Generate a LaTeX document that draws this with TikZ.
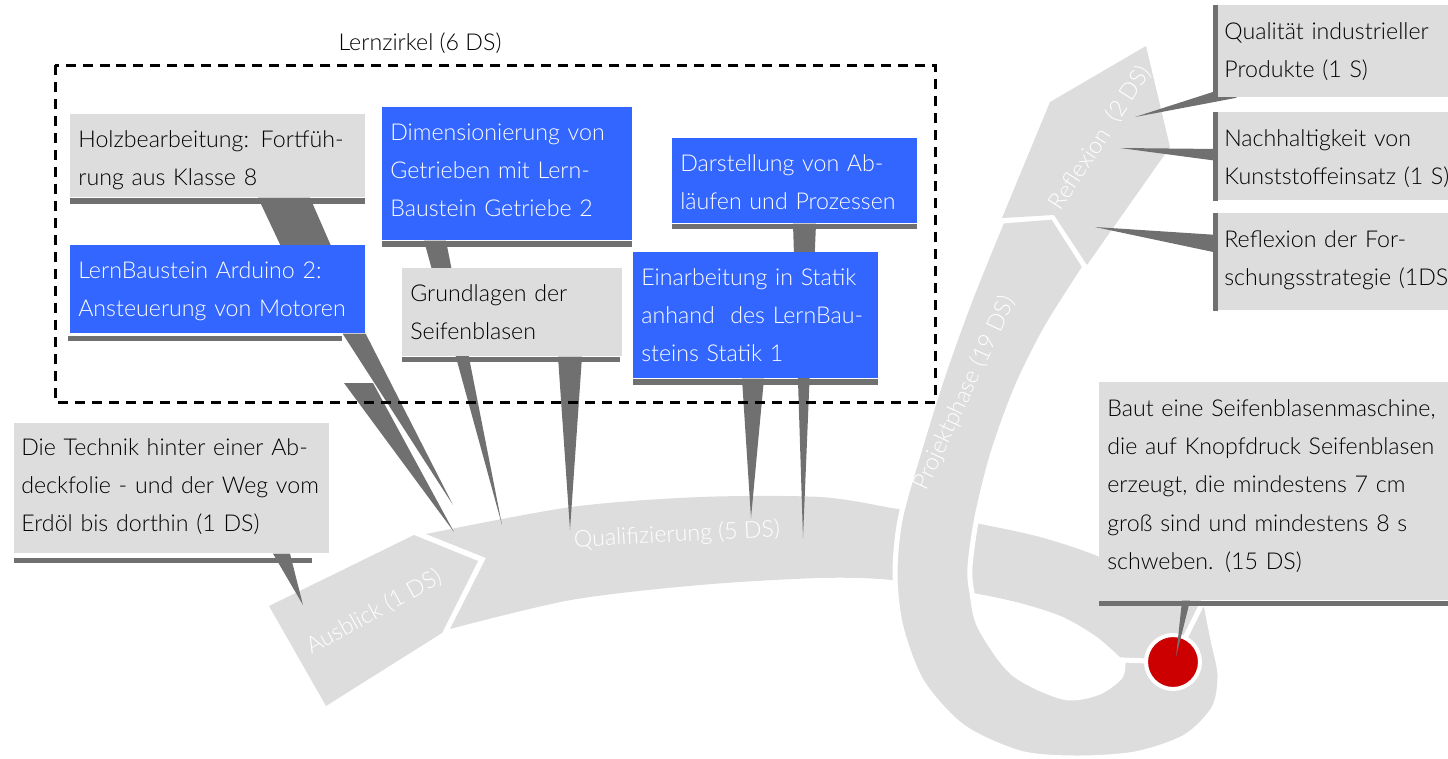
\documentclass[tikz,border=0pt]{standalone}
\usepackage{fontspec}
\setmainfont{Lato}[UprightFont=* Light]
\usetikzlibrary{calc}

\definecolor{trackgray}{HTML}{DDDDDD}
\definecolor{bargray}{HTML}{707070}
\definecolor{lzblue}{HTML}{3366FF}
\definecolor{goalred}{HTML}{CC0000}
\newcommand\cardfont{\fontsize{13.2pt}{21.8pt}\selectfont}

\tikzset{
  card/.style={anchor=north west, inner xsep=0.16cm, inner ysep=0pt, align=left, text height=0.66cm, font=\cardfont},
  graycard/.style={card, fill=trackgray, text=black},
  bluecard/.style={card, fill=lzblue, text=white},
  sidecard/.style={graycard, inner xsep=0.12cm, text width=5cm, text height=0.68cm},
  underbar/.style={fill=bargray},
  callout/.style={fill=bargray},
  track/.style={fill=trackgray},
  cuttrack/.style={fill=trackgray, draw=white, line width=0.1cm},
  steplabel/.style={text=white, font=\cardfont, inner sep=0pt},
  goal/.style={circle, fill=goalred, draw=white, line width=0.08cm, minimum size=1.08cm, inner sep=0pt}
}

\begin{document}
\begin{tikzpicture}[x=0.02cm, y=-0.02cm]
  \pgfdeclarelayer{band}    % the grey track
  \pgfdeclarelayer{pointer} % spikes from the cards
  \pgfsetlayers{band,pointer,main}
  \useasboundingbox (0,0) rectangle (1448,758);
  \clip (0,0) rectangle (1448,758);

  \begin{pgfonlayer}{band}
    % Qualifizierung, running on into the loop
    \fill[track] plot[smooth] coordinates {(426,534) (571,507) (700,497) (820,497) (892,508) (975,523) (1040,537) (1100,557) (1170,590)}
      -- (1205,598) -- (1173,662) -- (1123,660)
      -- plot[smooth] coordinates {(1123,660) (1097,637) (1063,617) (1020,603) (973,593) (892,580) (820,578) (700,585) (571,600) (450,629)}
      -- (486,558) -- cycle;
    % Ausblick
    \fill[track] (269,606) -- (414,535) -- (478,561) -- (442,633) -- (326,706) -- cycle;
    % Projektphase
    \filldraw[cuttrack] (1002,221) -- (1053,217)
      -- plot[smooth] coordinates {(1085,267) (1047,327) (1017,387) (993,453) (977,517) (970,567) (972,593) (980,627) (1013,673) (1063,697) (1097,693) (1120,677) (1123,660)}
      -- (1173,662) -- (1203,602)
      -- plot[smooth] coordinates {(1206,604) (1213,640) (1220,675) (1214,708) (1185,737) (1135,754) (1075,758) (1020,753) (963,727) (922,682) (901,627) (895,575) (900,520) (918,455) (942,378) (970,300) (1002,221)}
      -- cycle;
    % Reflexion
    \fill[track] (1002,218) -- (1050,102) -- (1146,46) -- (1170,147) -- (1087,265) -- (1054,215) -- cycle;
    \node[goal] (goal) at (1173,662) {};
    \node[steplabel, rotate=29] (ausblick) at (374,612) {Ausblick (1 DS)};
    \node[steplabel, rotate=3] (quali) at (677,535) {Qualifizierung (5 DS)};
    \node[steplabel, rotate=65] (projekt) at (965,393) {Projektphase (19 DS)};
    \node[steplabel, rotate=57] (reflex) at (1100,138) {Reflexion\ \ (2 DS)};
  \end{pgfonlayer}

  % Lernzirkel
  \node[font=\cardfont] (lernzirkel) at (420,43) {Lernzirkel (6 DS)};
  \draw[line width=0.06cm, dash pattern=on 0.2cm off 0.14cm] (55,65) rectangle (935,402);

  \node[graycard, text width=5.58cm, text depth=1.0cm] (holz) at (70,114) {Holzbearbeitung: Fortfüh-\\rung aus Klasse 8};
  \node[bluecard, text width=5.58cm, text depth=1.1cm] (arduino) at (70,245) {LernBaustein Arduino 2:\\Ansteuerung von Motoren};
  \node[bluecard, text width=4.68cm, text depth=2.0cm] (getriebe) at (382,107) {Dimensionierung von\\Getrieben mit Lern-\\Baustein Getriebe 2};
  \node[graycard, text width=4.08cm, text depth=1.1cm] (seifen) at (402,268) {Grundlagen der\\Seifenblasen};
  \node[bluecard, text width=4.58cm, text depth=1.04cm] (ablauf) at (672,138) {Darstellung von Ab-\\läufen und Prozessen};
  \node[bluecard, text width=4.58cm, text depth=1.86cm] (statik) at (633,252) {Einarbeitung in Statik\\anhand\ \ des LernBau-\\steins Statik 1};
  \node[graycard, inner xsep=0.14cm, text width=6.02cm, text height=0.64cm, text depth=1.96cm] (folie) at (14,423) {Die Technik hinter einer Ab-\\deckfolie - und der Weg vom\\Erdöl bis dorthin (1 DS)};
  \node[sidecard, text depth=1.16cm] (qualitaet) at (1218,5) {Qualität industrieller\\Produkte (1 S)};
  \node[sidecard, text depth=1.08cm] (nachhalt) at (1218,112) {Nachhaltigkeit von\\Kunststoffeinsatz (1 S)};
  \node[sidecard, text depth=1.26cm] (forschung) at (1218,213) {Reflexion der For-\\schungsstrategie (1DS)};
  \node[graycard, text width=6.9cm, text height=0.68cm, text depth=3.68cm] (maschine) at (1099,382) {Baut eine Seifenblasenmaschine,\\die auf Knopfdruck Seifenblasen\\erzeugt, die mindestens 7 cm\\groß sind und mindestens 8 s\\schweben. (15 DS)};

  % dark bars under and beside the cards
  \fill[underbar] (holz.south west) rectangle ++(295,6);
  \fill[underbar] ($(arduino.south west)+(-2,2)$) rectangle ++(274,5);
  \fill[underbar] (getriebe.south west) rectangle ++(250,6);
  \fill[underbar] (seifen.south west) rectangle ++(218,5);
  \fill[underbar] (ablauf.south west) rectangle ++(245,5);
  \fill[underbar] (statik.south west) rectangle ++(245,6);
  \fill[underbar] ($(folie.south west)+(0,4)$) rectangle ++(298,5);
  \fill[underbar] (maschine.south west) rectangle ++(360,5);
  \foreach \n in {qualitaet, nachhalt, forschung}
    \fill[underbar] (\n.north west) rectangle ($(\n.south west)+(-5,0)$);

  \begin{pgfonlayer}{pointer}
    \coordinate (tHolz) at (454,532);
    \coordinate (tArduino) at (453,505);
    \coordinate (tGetriebe) at (502,525);
    \coordinate (tSeifen) at (570,530);
    \coordinate (tAblauf) at (803,538);
    \coordinate (tStatik) at (751,518);
    \coordinate (tFolie) at (303,605);
    \coordinate (tMaschine) at (1176,657);
    \coordinate (tQualitaet) at (1135,117);
    \coordinate (tNachhalt) at (1120,148);
    \coordinate (tForschung) at (1095,227);
    \foreach \n/\u/\v/\t in {getriebe/42/64/tGetriebe, seifen/156/180/tSeifen, ablauf/121/144/tAblauf, statik/109/131/tStatik, folie/259/276/tFolie, maschine/83/91/tMaschine}
      \fill[callout] ($(\n.south west)+(\u,0)$) -- ($(\n.south west)+(\v,0)$) -- (\t) -- cycle;
    % Holz spike runs behind the Arduino card
    \fill[callout] ($(holz.south west)+(188,0)$) -- ($(holz.south west)+(240,0)$) -- ($(arduino.north west)+(265,10)$) -- ($(arduino.north west)+(215,10)$) -- cycle
      (344,383) -- (373,383) -- (tHolz) -- cycle;
    \fill[callout] ($(arduino.south east)+(-23,0)$) -- (arduino.south east) -- (tArduino) -- cycle;
    \fill[callout] ($(qualitaet.south west)+(-1,-7)$) -- ($(qualitaet.south west)+(19,0)$) -- (tQualitaet) -- cycle;
    \fill[callout] ($(nachhalt.north west)+(0,37)$) -- ($(nachhalt.north west)+(0,49)$) -- (tNachhalt) -- cycle;
    \fill[callout] ($(forschung.north west)+(0,22)$) -- ($(forschung.north west)+(0,40)$) -- (tForschung) -- cycle;
  \end{pgfonlayer}
\end{tikzpicture}
\end{document}
